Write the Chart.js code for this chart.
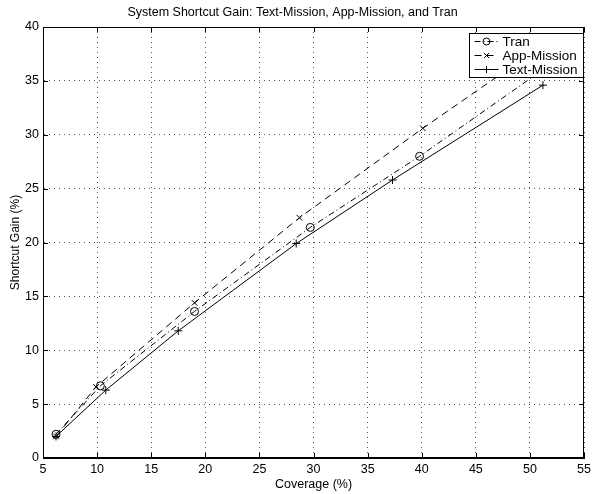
<!DOCTYPE html>
<html>
<head>
<meta charset="utf-8">
<script src="https://cdn.jsdelivr.net/npm/chart.js@4"></script>
<style>
  html, body { margin: 0; padding: 0; background: #fff; }
  canvas { display: block; }
</style>
</head>
<body>
<canvas id="gainChart" width="595" height="494"></canvas>
<script>
// --- values ---
const seriesNames = ['Tran', 'App-Mission', 'Text-Mission'];
const tranX = [6.2, 10.3, 19.0, 29.7, 39.8, 51.0];
const tranY = [2.2, 6.7, 13.6, 21.4, 28.0, 35.9];
const appX = [6.2, 9.9, 19.0, 28.7, 40.1, 51.0];
const appY = [2.0, 6.6, 14.4, 22.3, 30.6, 38.2];
const textX = [6.2, 10.8, 17.5, 28.4, 37.3, 51.2];
const textY = [2.0, 6.3, 11.8, 19.9, 25.8, 34.6];
const xTicks = [5, 10, 15, 20, 25, 30, 35, 40, 45, 50, 55];
const yTicks = [0, 5, 10, 15, 20, 25, 30, 35, 40];

const FONT = '"Liberation Sans", Arial, sans-serif';

function pts(xs, ys) {
  return xs.map((x, i) => ({ x: x, y: ys[i] }));
}

function series(label, xs, ys, dash, style) {
  return {
    label: label,
    data: pts(xs, ys),
    borderColor: '#000',
    borderWidth: 1,
    borderDash: dash,
    pointStyle: style,
    pointRadius: 4,
    pointBorderColor: '#000',
    pointBackgroundColor: 'rgba(0,0,0,0)',
    pointBorderWidth: 1,
    fill: false,
    tension: 0,
  };
}

function marker(ctx, style, cx, cy, r) {
  ctx.beginPath();
  if (style === 'circle') {
    ctx.arc(cx, cy, r, 0, Math.PI * 2);
  } else if (style === 'cross') {
    ctx.moveTo(cx - r, cy); ctx.lineTo(cx + r, cy);
    ctx.moveTo(cx, cy - r); ctx.lineTo(cx, cy + r);
  } else {
    const d = r * 0.75;
    ctx.moveTo(cx - d, cy - d); ctx.lineTo(cx + d, cy + d);
    ctx.moveTo(cx - d, cy + d); ctx.lineTo(cx + d, cy - d);
  }
  ctx.stroke();
}

// box, inward ticks and the MATLAB style legend
const framePlugin = {
  id: 'frame',
  afterDatasetsDraw(chart) {
    const { ctx, chartArea: a, scales: { x, y } } = chart;
    ctx.save();
    ctx.strokeStyle = '#000';
    ctx.lineWidth = 1;
    ctx.setLineDash([]);
    ctx.strokeRect(Math.round(a.left) + 0.5, Math.round(a.top) + 0.5,
      Math.round(a.width) - 1, Math.round(a.height) - 1);
    ctx.beginPath();
    xTicks.forEach(function (v) {
      const px = Math.round(x.getPixelForValue(v)) + 0.5;
      ctx.moveTo(px, a.bottom); ctx.lineTo(px, a.bottom - 5);
      ctx.moveTo(px, a.top); ctx.lineTo(px, a.top + 5);
    });
    yTicks.forEach(function (v) {
      const py = Math.round(y.getPixelForValue(v)) + 0.5;
      ctx.moveTo(a.left, py); ctx.lineTo(a.left + 5, py);
      ctx.moveTo(a.right, py); ctx.lineTo(a.right - 5, py);
    });
    ctx.stroke();

    // legend
    const bx = 469.5, by = 33.5, bw = 114, bh = 44;
    ctx.fillStyle = '#fff';
    ctx.fillRect(bx, by, bw, bh);
    ctx.strokeRect(bx, by, bw, bh);
    ctx.font = '13.5px ' + FONT;
    ctx.fillStyle = '#000';
    ctx.textBaseline = 'middle';
    ctx.textAlign = 'left';
    chart.data.datasets.forEach(function (ds, i) {
      const ry = by + 8 + i * 14;
      ctx.setLineDash(ds.borderDash);
      ctx.beginPath();
      ctx.moveTo(bx + 5, ry); ctx.lineTo(bx + 29, ry);
      ctx.stroke();
      ctx.setLineDash([]);
      marker(ctx, ds.pointStyle, bx + 17, ry, 3.5);
      ctx.fillText(ds.label, bx + 33, ry + 0.5);
    });
    ctx.restore();
  },
};

new Chart(document.getElementById('gainChart'), {
  type: 'line',
  data: {
    datasets: [
      series(seriesNames[0], tranX, tranY, [6, 3, 1, 3], 'circle'),
      series(seriesNames[1], appX, appY, [7, 5], 'crossRot'),
      series(seriesNames[2], textX, textY, [], 'cross'),
    ],
  },
  options: {
    responsive: false,
    animation: false,
    layout: { padding: { left: 0, right: 10, top: 0, bottom: 0 } },
    plugins: {
      legend: { display: false },
      tooltip: { enabled: false },
      title: {
        display: true,
        text: 'System Shortcut Gain: Text-Mission, App-Mission, and Tran',
        color: '#000',
        font: { family: FONT, size: 12.5, weight: 'normal' },
        padding: { top: 5, bottom: 7 },
      },
    },
    scales: {
      x: {
        type: 'linear',
        min: 5,
        max: 55,
        afterBuildTicks: (s) => { s.ticks = xTicks.map((v) => ({ value: v })); },
        afterFit: (s) => { s.height = 36; },
        ticks: { color: '#000', padding: 4, font: { family: FONT, size: 12.5 } },
        grid: { color: '#555', lineWidth: 1, drawTicks: false },
        border: { display: true, color: '#000', dash: [1, 4] },
        title: {
          display: true,
          text: 'Coverage (%)',
          color: '#000',
          font: { family: FONT, size: 12.5 },
          padding: { top: 0, bottom: 2 },
        },
      },
      y: {
        min: 0,
        max: 40,
        afterBuildTicks: (s) => { s.ticks = yTicks.map((v) => ({ value: v })); },
        afterFit: (s) => { s.width = 43; },
        ticks: { color: '#000', padding: 4, font: { family: FONT, size: 12.5 } },
        grid: { color: '#555', lineWidth: 1, drawTicks: false },
        border: { display: true, color: '#000', dash: [1, 4] },
        title: {
          display: true,
          text: 'Shortcut Gain (%)',
          color: '#000',
          font: { family: FONT, size: 12 },
          padding: { top: 8, bottom: 0 },
        },
      },
    },
  },
  plugins: [framePlugin],
});
</script>
</body>
</html>
